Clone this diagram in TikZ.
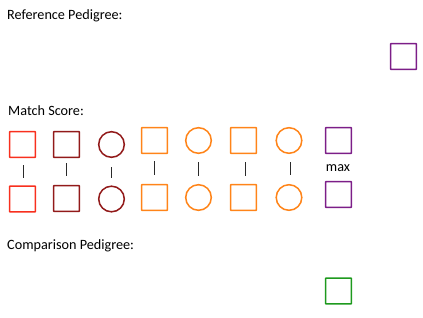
\documentclass[tikz,border=0pt]{standalone}
\usepackage{fontspec}
\setmainfont{Carlito}
\definecolor{cred}{HTML}{F8301E}
\definecolor{cdred}{HTML}{921A1A}
\definecolor{corange}{HTML}{FF8419}
\definecolor{cpurple}{HTML}{7C1E88}
\definecolor{cgreen}{HTML}{1E9A1E}
\definecolor{cbar}{HTML}{2A2A2A}
\tikzset{
  sqbox/.style={shape=rectangle, draw=#1, rounded corners=0.3pt, line width=1.5pt, minimum width=25.6pt, minimum height=25.6pt, inner sep=0pt},
  cibox/.style={shape=circle, draw=#1, line width=1.5pt, minimum size=25.6pt, inner sep=0pt},
  lbl/.style={anchor=base west, inner sep=0pt, font=\fontsize{14.2}{16}\selectfont, text=black},
  bar/.style={draw=cbar, line width=1pt},
}
\begin{document}
\begin{tikzpicture}[x=1pt,y=-1pt]
\useasboundingbox (0,0) rectangle (423,317);
\node[lbl] (t1) at (7,19) {Reference Pedigree:};
\node[lbl] (t2) at (8,115) {Match Score:};
\node[lbl] (t3) at (7,249.5) {Comparison Pedigree:};

\node[sqbox=cpurple] (ref) at (403.5,56.5) {};

\node[sqbox=cred] (a1) at (22.5,144.5) {};
\node[sqbox=cdred] (b1) at (66.5,144.5) {};
\node[cibox=cdred] (c1) at (111.5,144.5) {};
\node[sqbox=corange] (d1) at (154.5,140.5) {};
\node[cibox=corange] (e1) at (198.5,140.5) {};
\node[sqbox=corange] (f1) at (243.5,140.5) {};
\node[cibox=corange] (g1) at (289,140.5) {};
\node[sqbox=cpurple] (h1) at (338.5,140.5) {};

\node[sqbox=cred] (a2) at (22.5,199) {};
\node[sqbox=cdred] (b2) at (66.5,198.5) {};
\node[cibox=cdred] (c2) at (111.5,199) {};
\node[sqbox=corange] (d2) at (154.5,197.5) {};
\node[cibox=corange] (e2) at (198.5,197.5) {};
\node[sqbox=corange] (f2) at (243.5,197.5) {};
\node[cibox=corange] (g2) at (289,197.5) {};
\node[sqbox=cpurple] (h2) at (338.5,194.5) {};

\node[lbl, anchor=base] (mx) at (338,171) {max};

\node[sqbox=cgreen] (cmp) at (338.5,291) {};

\coordinate (a3) at (23.5,165); \coordinate (a4) at (23.5,178);
\coordinate (b3) at (66.5,163); \coordinate (b4) at (66.5,176);
\coordinate (c3) at (111.5,167);  \coordinate (c4) at (111.5,178);
\coordinate (d3) at (154.5,161);  \coordinate (d4) at (154.5,175);
\coordinate (e3) at (198.5,162); \coordinate (e4) at (198.5,176);
\coordinate (f3) at (245.5,162);  \coordinate (f4) at (245.5,176);
\coordinate (g3) at (290.5,162);  \coordinate (g4) at (290.5,175);
\foreach \k in {a,b,c,d,e,f,g} {\draw[bar] (\k3) -- (\k4);}
\end{tikzpicture}
\end{document}
